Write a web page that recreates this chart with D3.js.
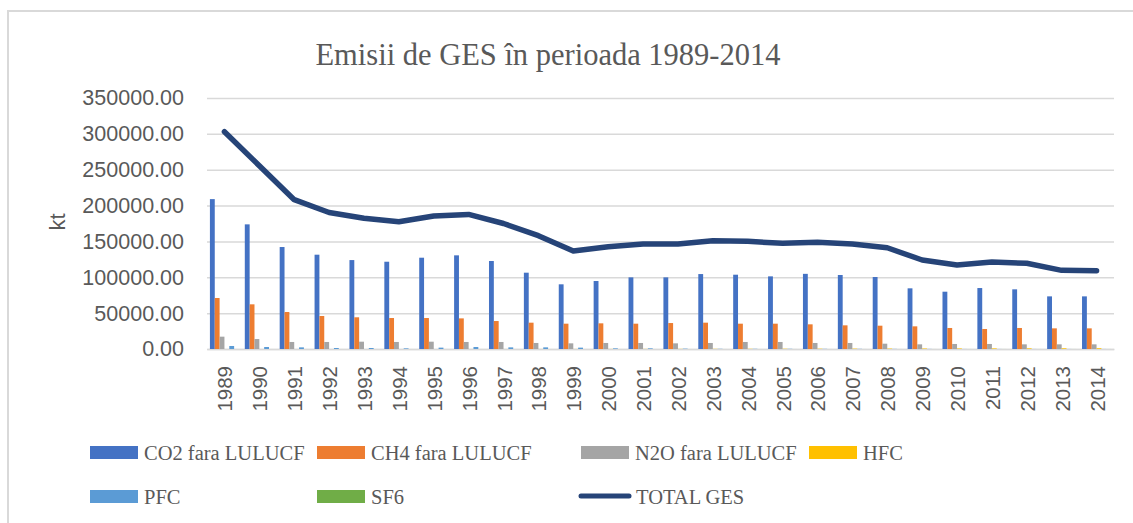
<!DOCTYPE html>
<html>
<head>
<meta charset="utf-8">
<script src="https://cdn.jsdelivr.net/npm/d3@7"></script>
<style>
  body { margin: 0; background: #fff; }
  svg { display: block; }
</style>
</head>
<body>
<svg id="chart" width="1133" height="523"></svg>
<script>
const years = ["1989","1990","1991","1992","1993","1994","1995","1996","1997","1998","1999","2000","2001",
               "2002","2003","2004","2005","2006","2007","2008","2009","2010","2011","2012","2013","2014"];

const co2 = [209000,173800,142200,131500,124000,121700,127300,130600,122700,106400,90200,94800,99900,
             99900,104500,103600,101300,104800,103200,100400,84600,79900,85000,83200,73400,73400];
const ch4 = [71100,62300,51600,46000,44200,43200,43200,42700,39000,36700,35300,35800,35300,
             36200,36700,35300,35300,34400,33000,32500,31600,29300,27900,29300,28800,28800];
const n2o = [17200,13900,9800,9800,10200,9800,10200,9800,9800,8400,7900,8400,8400,
             7900,8400,9800,9800,8400,8400,7400,6500,7000,7000,6500,6500,6500];
const hfc = [0,0,0,0,0,0,10,20,40,60,90,120,160,
             210,260,320,390,460,540,620,700,780,860,940,1020,1100];
const pfc = [4200,2800,2300,1400,1400,900,1900,2800,2300,2300,1900,900,900,
             500,300,300,300,250,250,200,150,100,100,100,100,100];
const sf6 = [10,10,10,10,10,10,10,10,10,10,10,10,10,
             15,15,15,20,20,20,25,25,30,30,30,30,30];
const totalGes = [302900,255500,208200,190300,182200,177500,185400,187700,175000,158000,136600,142600,146400,
                  146400,151000,150100,147300,148700,146400,141200,124100,117100,121300,119500,109700,109200];

const seriesNames = ["CO2 fara LULUCF","CH4 fara LULUCF","N2O fara LULUCF","HFC","PFC","SF6"];
const seriesValues = [co2, ch4, n2o, hfc, pfc, sf6];
const seriesColors = ["#4472C4","#ED7D31","#A5A5A5","#FFC000","#5B9BD5","#70AD47"];
const lineName = "TOTAL GES";
const lineColor = "#264478";
const yTicks = [0,50000,100000,150000,200000,250000,300000,350000];

const svg = d3.select("#chart");
const textGray = "#595959";
const plot = {left: 207, right: 1114, top: 98, bottom: 349};

// contur
svg.append("rect")
    .attr("x", 8).attr("y", 11)
    .attr("width", 1140).attr("height", 530)
    .attr("fill", "none")
    .attr("stroke", "#d9d9d9")
    .attr("stroke-width", 2);

// titlu
svg.append("text")
    .attr("x", 548).attr("y", 65)
    .attr("text-anchor", "middle")
    .attr("font-family", "Liberation Serif, serif")
    .attr("font-size", 30.5)
    .attr("fill", textGray)
    .text("Emisii de GES în perioada 1989-2014");

const x = d3.scaleBand()
    .domain(years)
    .range([plot.left, plot.right])
    .paddingInner(0.167)
    .paddingOuter(0.0835);

const xSub = d3.scaleBand()
    .domain(d3.range(seriesNames.length))
    .range([0, x.bandwidth()]);

const y = d3.scaleLinear()
    .domain([0, 350000])
    .range([plot.bottom, plot.top]);

// grila
const yAxis = d3.axisLeft(y)
    .tickValues(yTicks)
    .tickFormat(d3.format(".2f"))
    .tickSize(-(plot.right - plot.left))
    .tickPadding(23);

const gy = svg.append("g")
    .attr("transform", `translate(${plot.left},0)`)
    .call(yAxis);
gy.select(".domain").remove();
gy.selectAll(".tick line")
    .attr("stroke", "#d9d9d9")
    .attr("stroke-width", 1.5);
gy.selectAll(".tick text")
    .attr("font-family", "Liberation Sans, Arial, sans-serif")
    .attr("font-size", 21.5)
    .attr("fill", textGray);

// axa x
const xAxis = d3.axisBottom(x).tickSize(0).tickPadding(0);
const gx = svg.append("g")
    .attr("transform", `translate(0,${plot.bottom})`)
    .call(xAxis);
gx.select(".domain")
    .attr("stroke", "#d9d9d9")
    .attr("stroke-width", 1.5);
gx.selectAll(".tick text")
    .attr("font-family", "Liberation Sans, Arial, sans-serif")
    .attr("font-size", 20.5)
    .attr("fill", textGray)
    .attr("text-anchor", "end")
    .attr("transform", "translate(8,17) rotate(-90)")
    .attr("dy", 0)
    .attr("x", 0)
    .attr("y", 0);

// bare
seriesValues.forEach((vals, si) => {
    svg.append("g")
        .selectAll("rect")
        .data(vals)
        .enter()
        .append("rect")
        .attr("x", (d, i) => x(years[i]) + xSub(si))
        .attr("y", d => y(d))
        .attr("width", xSub.bandwidth())
        .attr("height", d => y(0) - y(d))
        .attr("fill", seriesColors[si]);
});

// linia total
const line = d3.line()
    .x((d, i) => x(years[i]) + x.bandwidth() / 2)
    .y(d => y(d));

svg.append("path")
    .datum(totalGes)
    .attr("d", line)
    .attr("fill", "none")
    .attr("stroke", lineColor)
    .attr("stroke-width", 5.5)
    .attr("stroke-linejoin", "round")
    .attr("stroke-linecap", "round");

// eticheta axa y
svg.append("text")
    .attr("transform", "translate(65,222) rotate(-90)")
    .attr("text-anchor", "middle")
    .attr("font-family", "Liberation Sans, Arial, sans-serif")
    .attr("font-size", 22)
    .attr("fill", textGray)
    .text("kt");

// legenda
const legendPos = [[90,452],[317,452],[581,452],[809,452],[90,496],[317,496]];
seriesNames.forEach((name, i) => {
    const [lx, ly] = legendPos[i];
    svg.append("rect")
        .attr("x", lx).attr("y", ly - 6)
        .attr("width", 48).attr("height", 13)
        .attr("fill", seriesColors[i]);
    svg.append("text")
        .attr("x", lx + 54).attr("y", ly + 8)
        .attr("font-family", "Liberation Serif, serif")
        .attr("font-size", 20.5)
        .attr("fill", textGray)
        .text(name);
});
svg.append("line")
    .attr("x1", 581).attr("x2", 629)
    .attr("y1", 496).attr("y2", 496)
    .attr("stroke", lineColor)
    .attr("stroke-width", 5)
    .attr("stroke-linecap", "round");
svg.append("text")
    .attr("x", 636).attr("y", 504)
    .attr("font-family", "Liberation Serif, serif")
    .attr("font-size", 20.5)
    .attr("fill", textGray)
    .text(lineName);
</script>
</body>
</html>
